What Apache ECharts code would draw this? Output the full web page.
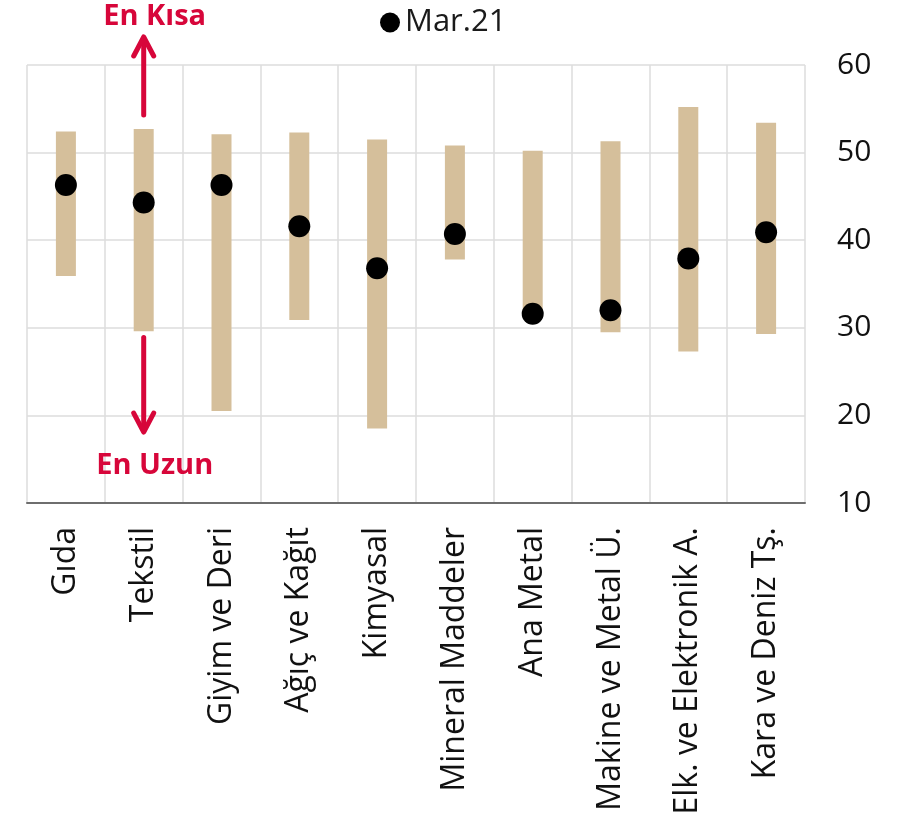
<!DOCTYPE html>
<html>
<head>
<meta charset="utf-8">
<script src="https://cdn.jsdelivr.net/npm/echarts@6/dist/echarts.min.js"></script>
<style>
html,body{margin:0;padding:0;background:#fff;}
#main{width:915px;height:819px;}
</style>
</head>
<body>
<div id="main"></div>
<script>
const categories = ['Gıda','Tekstil','Giyim ve Deri','Ağıç ve Kağıt','Kimyasal','Mineral Maddeler','Ana Metal','Makine ve Metal Ü.','Elk. ve Elektronik A.','Kara ve Deniz Tş.'];
const rangeLow  = [35.9, 29.6, 20.5, 30.9, 18.5, 37.8, 31.2, 29.5, 27.3, 29.3];
const rangeHigh = [52.4, 52.7, 52.1, 52.3, 51.5, 50.8, 50.2, 51.3, 55.2, 53.4];
const mar21     = [46.3, 44.3, 46.3, 41.6, 36.8, 40.7, 31.6, 32.0, 37.9, 40.9];
const yTicks = [10, 20, 30, 40, 50, 60];
const legendName = 'Mar.21';
const labelShort = 'En Kısa';
const labelLong = 'En Uzun';

const FONT = '"Open Sans", "Noto Sans", sans-serif';
const RED = '#d7063a';

const chart = echarts.init(document.getElementById('main'), null, {renderer:'canvas'});
const option = {
  animation: false,
  backgroundColor: '#fff',
  grid: {left: 27, right: 110, top: 65, bottom: 316, containLabel: false},
  legend: {
    data: [{name: legendName, icon: 'circle', itemStyle: {color: '#000', opacity: 1}}],
    left: 375, top: 2,
    itemWidth: 20, itemHeight: 20, itemGap: 10,
    textStyle: {fontFamily: FONT, fontSize: 31, color: '#1a1a1a'}
  },
  xAxis: {
    type: 'category',
    data: categories,
    boundaryGap: true,
    axisLine: {show: true, lineStyle: {color: '#6e6e6e', width: 2}},
    axisTick: {show: false},
    splitLine: {show: true, lineStyle: {color: '#dcdcdc', width: 1.5}},
    axisLabel: {rotate: 90, margin: 24, fontFamily: FONT, fontSize: 32, color: '#111', interval: 0}
  },
  yAxis: {
    type: 'value',
    position: 'right',
    min: 10, max: 60, interval: 10,
    axisLine: {show: false},
    axisTick: {show: false},
    splitLine: {show: true, lineStyle: {color: '#dcdcdc', width: 1.5}},
    axisLabel: {margin: 32, fontFamily: FONT, fontSize: 30, color: '#111',
      formatter: v => yTicks.includes(v) ? String(v) : ''}
  },
  series: [
    {
      name: 'base', type: 'bar', stack: 'r', barWidth: 20,
      itemStyle: {color: 'rgba(0,0,0,0)'},
      data: rangeLow, silent: true
    },
    {
      name: 'range', type: 'bar', stack: 'r', barWidth: 20,
      itemStyle: {color: '#d5bf9b'},
      data: rangeHigh.map((h, i) => +(h - rangeLow[i]).toFixed(2))
    },
    {
      name: legendName, type: 'scatter', symbol: 'circle', symbolSize: 22,
      itemStyle: {color: '#000', opacity: 1},
      data: mar21, z: 5
    }
  ]
};
chart.setOption(option);

// annotations positioned through the chart's scales
function px(cat, val){ return chart.convertToPixel({gridIndex:0}, [cat, val]); }
const cat = categories[1];
const upStart = px(cat, 54.3), upTip = px(cat, 63.2);
const dnStart = px(cat, 28.9), dnTip = px(cat, 18.1);
const tShort = px(cat, 65.5), tLong = px(cat, 14.2);
const ah = 19, aw = 10;
const ls = {stroke: RED, lineWidth: 5, lineCap: 'round', lineJoin: 'round', fill: null};
chart.setOption({
  graphic: [
    {type:'line', shape:{x1:upStart[0], y1:upStart[1], x2:upTip[0], y2:upTip[1]+2}, style:ls},
    {type:'polyline', shape:{points:[[upTip[0]-aw, upTip[1]+ah],[upTip[0], upTip[1]],[upTip[0]+aw, upTip[1]+ah]]}, style:ls},
    {type:'line', shape:{x1:dnStart[0], y1:dnStart[1], x2:dnTip[0], y2:dnTip[1]-2}, style:ls},
    {type:'polyline', shape:{points:[[dnTip[0]-aw, dnTip[1]-ah],[dnTip[0], dnTip[1]],[dnTip[0]+aw, dnTip[1]-ah]]}, style:ls},
    {type:'text', x: tShort[0]+11, y: tShort[1], style:{text: labelShort, fill: RED, font: 'bold 29px ' + FONT, textAlign:'center', textVerticalAlign:'middle'}},
    {type:'text', x: tLong[0]+11, y: tLong[1], style:{text: labelLong, fill: RED, font: 'bold 29px ' + FONT, textAlign:'center', textVerticalAlign:'middle'}}
  ]
});
</script>
</body>
</html>
